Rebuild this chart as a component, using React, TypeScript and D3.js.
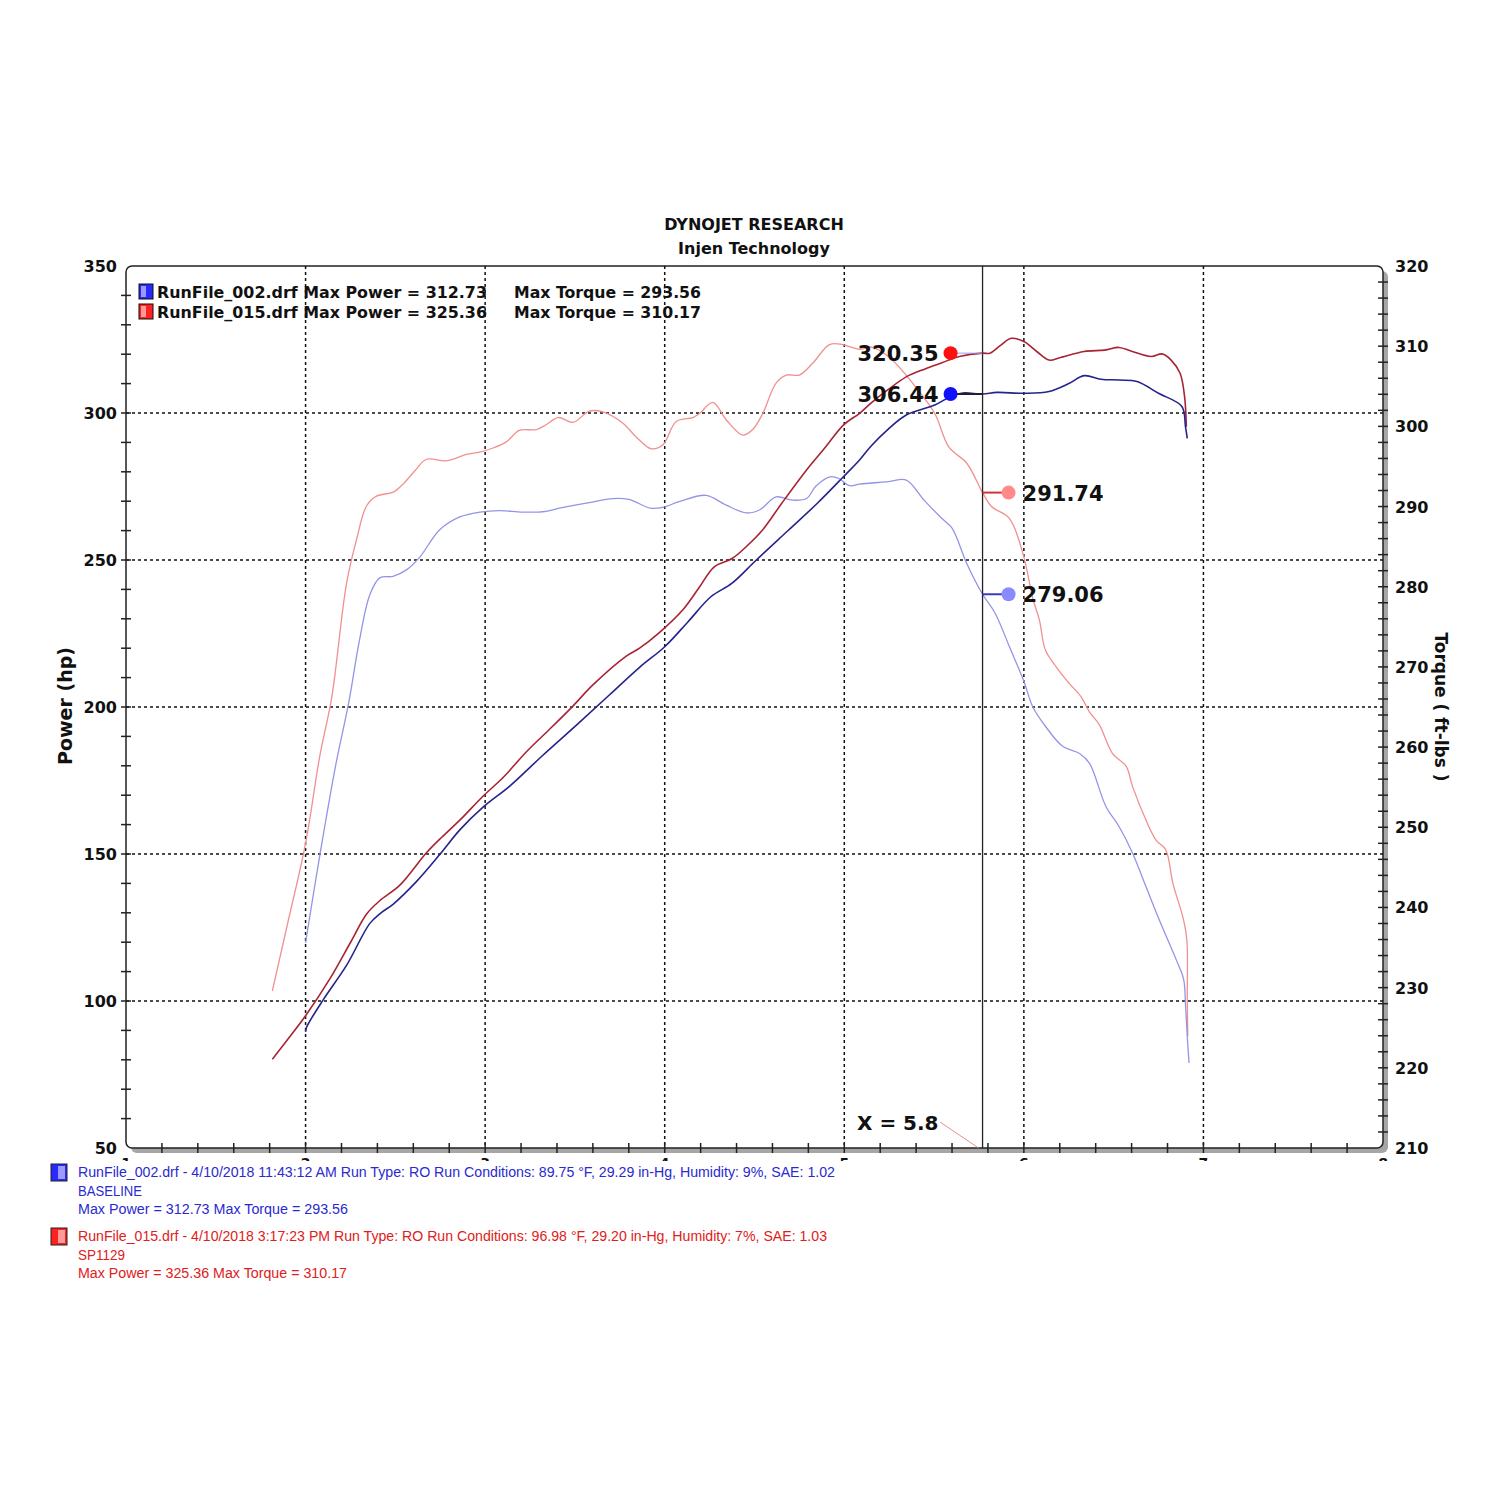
import React from "react";
import * as d3 from "d3";

// ---------- data (rpm in thousands) ----------
const xTicks = [1, 2, 3, 4, 5, 6, 7, 8];
const powerTicks = [50, 100, 150, 200, 250, 300, 350];
const torqueTicks = [210, 220, 230, 240, 250, 260, 270, 280, 290, 300, 310, 320];

const cursorRpm = 5.77;
const cursorLabel = "X = 5.8";

// SP1129 (RunFile_015) power, hp
const sp1129Power: [number, number][] = [
  [1.815, 80.2], [1.9, 86.9], [2.0, 95.0], [2.135, 107.5], [2.25, 119.9], [2.34, 129.6],
  [2.413, 134.1], [2.525, 139.4], [2.673, 150.4], [2.76, 155.8], [2.859, 161.5], [2.992, 169.9],
  [3.1, 176.0], [3.23, 184.8], [3.36, 192.5], [3.49, 200.4], [3.6, 207.5], [3.786, 217.3],
  [3.86, 220.0], [3.97, 225.3], [4.1, 233.0], [4.19, 240.5], [4.276, 247.7], [4.375, 250.5],
  [4.455, 254.6], [4.546, 260.3], [4.652, 269.3], [4.79, 280.6], [4.89, 288.0], [4.995, 295.9],
  [5.085, 299.9], [5.147, 303.3], [5.245, 308.0], [5.345, 312.3], [5.45, 315.0], [5.544, 317.1],
  [5.64, 319.2], [5.77, 320.35], [5.81, 320.3], [5.87, 323.0], [5.93, 325.4], [6.0, 324.3],
  [6.07, 321.0], [6.14, 318.0], [6.2, 318.8], [6.335, 320.9], [6.45, 321.4], [6.53, 322.3],
  [6.6, 321.0], [6.71, 319.2], [6.77, 320.1], [6.82, 318.0], [6.87, 313.5], [6.895, 305.6],
  [6.905, 295.3],
];

// BASELINE (RunFile_002) power, hp
const baselinePower: [number, number][] = [
  [2.0, 89.5], [2.005, 91.0], [2.098, 100.4], [2.228, 112.1], [2.358, 126.4], [2.42, 130.0],
  [2.487, 132.9], [2.617, 140.6], [2.747, 149.8], [2.859, 158.2], [2.99, 166.0], [3.137, 173.1],
  [3.32, 183.5], [3.51, 193.9], [3.69, 204.0], [3.86, 213.5], [4.0, 220.5], [4.13, 229.0],
  [4.257, 237.5], [4.375, 242.1], [4.51, 250.0], [4.69, 260.2], [4.85, 269.3], [4.995, 278.3],
  [5.085, 284.0], [5.147, 288.6], [5.245, 294.5], [5.345, 299.3], [5.504, 302.7], [5.59, 305.5],
  [5.66, 306.8], [5.77, 306.44], [5.85, 307.0], [6.0, 306.7], [6.14, 307.3], [6.25, 310.0],
  [6.335, 312.7], [6.43, 311.5], [6.53, 311.2], [6.63, 310.7], [6.75, 306.7], [6.88, 302.2],
  [6.9, 295.4], [6.91, 291.4],
];

// SP1129 torque, ft-lbs
const sp1129Torque: [number, number][] = [
  [1.815, 229.6], [1.9, 238.0], [2.0, 248.0], [2.08, 259.0], [2.145, 266.1], [2.228, 280.4],
  [2.284, 285.9], [2.34, 290.1], [2.395, 291.3], [2.488, 291.8], [2.543, 292.8], [2.61, 294.5],
  [2.673, 295.9], [2.785, 295.7], [2.896, 296.5], [2.97, 296.8], [3.044, 297.3], [3.12, 298.1],
  [3.19, 299.5], [3.285, 299.6], [3.34, 300.2], [3.406, 301.1], [3.49, 300.5], [3.58, 301.9],
  [3.656, 301.8], [3.767, 300.4], [3.84, 298.7], [3.925, 297.2], [3.99, 297.7], [4.064, 300.6],
  [4.157, 301.1], [4.194, 301.6], [4.268, 303.0], [4.343, 300.8], [4.435, 298.9], [4.49, 299.6],
  [4.546, 301.6], [4.62, 305.4], [4.677, 306.4], [4.75, 306.4], [4.825, 307.9], [4.918, 310.2],
  [4.99, 310.2], [5.085, 309.6], [5.147, 309.9], [5.246, 308.7], [5.405, 304.7], [5.504, 301.6],
  [5.583, 297.4], [5.682, 295.4], [5.77, 291.74], [5.82, 290.0], [5.92, 288.5], [6.0, 283.7],
  [6.05, 278.5], [6.086, 275.9], [6.12, 272.1], [6.18, 270.0], [6.25, 268.0], [6.318, 266.3],
  [6.365, 264.4], [6.42, 262.8], [6.494, 259.2], [6.57, 257.6], [6.605, 255.1], [6.68, 250.9],
  [6.736, 248.4], [6.79, 247.2], [6.83, 243.0], [6.89, 238.4], [6.908, 235.9], [6.91, 228.5],
  [6.913, 223.9],
];

// BASELINE torque, ft-lbs
const baselineTorque: [number, number][] = [
  [2.0, 235.6], [2.08, 246.6], [2.17, 258.0], [2.24, 265.5], [2.3, 273.3], [2.358, 279.0],
  [2.413, 281.1], [2.487, 281.3], [2.562, 282.1], [2.636, 283.7], [2.747, 287.1], [2.859, 288.7],
  [2.97, 289.3], [3.08, 289.5], [3.21, 289.3], [3.34, 289.4], [3.415, 289.8], [3.58, 290.5],
  [3.71, 291.0], [3.8, 290.9], [3.92, 289.8], [3.99, 289.9], [4.08, 290.6], [4.23, 291.4],
  [4.34, 290.2], [4.455, 289.2], [4.53, 289.6], [4.62, 291.2], [4.71, 290.8], [4.79, 291.0],
  [4.84, 292.5], [4.92, 293.7], [4.97, 293.5], [5.03, 292.6], [5.085, 292.8], [5.246, 293.1],
  [5.345, 293.3], [5.444, 290.8], [5.544, 288.5], [5.6, 287.3], [5.682, 282.9], [5.77, 279.06],
  [5.84, 276.7], [5.92, 272.5], [6.0, 268.2], [6.05, 265.0], [6.12, 262.6], [6.216, 260.1],
  [6.31, 259.2], [6.365, 258.0], [6.457, 252.6], [6.53, 250.1], [6.605, 246.8], [6.68, 242.6],
  [6.755, 238.4], [6.85, 233.4], [6.89, 231.0], [6.9, 228.0], [6.91, 223.9], [6.92, 220.6],
];

const cursorValues = { sp1129Power: "320.35", baselinePower: "306.44", sp1129Torque: "291.74", baselineTorque: "279.06" };
const cursorNumbers = { sp1129Power: 320.35, baselinePower: 306.44, sp1129Torque: 291.74, baselineTorque: 279.06 };

const topLegend = [
  { name: "RunFile_002.drf", power: "Max Power = 312.73", torque: "Max Torque = 293.56", color: "#2828ff", light: "#9a9aff" },
  { name: "RunFile_015.drf", power: "Max Power = 325.36", torque: "Max Torque = 310.17", color: "#ff2020", light: "#ff9a9a" },
];

const bottomLegend = [
  {
    lines: [
      "RunFile_002.drf - 4/10/2018 11:43:12 AM  Run Type: RO  Run Conditions: 89.75 \u00B0F, 29.29 in-Hg,  Humidity:  9%, SAE: 1.02",
      "BASELINE",
      "Max Power = 312.73  Max Torque = 293.56",
    ],
    color: "#2a2ad0", box: "#2828ff", light: "#9a9aff",
  },
  {
    lines: [
      "RunFile_015.drf - 4/10/2018 3:17:23 PM  Run Type: RO  Run Conditions: 96.98 \u00B0F, 29.20 in-Hg,  Humidity:  7%, SAE: 1.03",
      "SP1129",
      "Max Power = 325.36  Max Torque = 310.17",
    ],
    color: "#e02020", box: "#ff2020", light: "#ff9a9a",
  },
];

// ---------- layout ----------
const L = 126, R = 1383, T = 266, B = 1148;
const FONT = "'DejaVu Sans', Verdana, sans-serif";
const NARROW = "'Liberation Sans Narrow', 'Liberation Sans', Arial, sans-serif";

export default function App() {
  const x = d3.scaleLinear().domain([1, 8]).range([L, R]);
  const yP = d3.scaleLinear().domain([50, 350]).range([B, T]);
  const yT = d3.scaleLinear().domain([210, 320]).range([B, T]);

  const lineP = d3.line<[number, number]>().x((d) => x(d[0])).y((d) => yP(d[1])).curve(d3.curveCatmullRom.alpha(0.5));
  const lineT = d3.line<[number, number]>().x((d) => x(d[0])).y((d) => yT(d[1])).curve(d3.curveCatmullRom.alpha(0.5));

  const cx = x(cursorRpm);
  const leftTicks = d3.range(60, 350, 10);
  const rightTicks = d3.range(212, 320, 2);
  const bottomTicks = d3.range(1.2, 7.9, 0.2);

  const gridV = [2, 3, 4, 5, 6, 7];
  const gridH = [100, 150, 200, 250, 300];

  const pMarkX = cx - 32;
  const tMarkX = cx + 26;

  return (
    <svg width={1500} height={1500} style={{ position: "absolute", left: 0, top: 0, background: "#fff" }}>
      <defs>
        <clipPath id="xlabclip">
          <rect x={0} y={1154} width={1500} height={7} />
        </clipPath>
        <clipPath id="plotclip">
          <rect x={L} y={T} width={R - L} height={B - T} />
        </clipPath>
      </defs>

      {/* title */}
      <text x={754} y={230} textAnchor="middle" fontFamily={FONT} fontWeight="bold" fontSize={16} fill="#111">DYNOJET RESEARCH</text>
      <text x={754} y={254} textAnchor="middle" fontFamily={FONT} fontWeight="bold" fontSize={16} fill="#111">Injen Technology</text>

      {/* frame shadow + frame */}
      <rect x={L + 5} y={T + 5} width={R - L} height={B - T} rx={6} fill="#a6a6a6" />
      <rect x={L} y={T} width={R - L} height={B - T} rx={6} fill="#fff" stroke="#222" strokeWidth={1.5} />

      {/* grid */}
      {gridH.map((v) => (
        <line key={"gh" + v} x1={L} x2={R} y1={yP(v)} y2={yP(v)} stroke="#111" strokeWidth={1.5} strokeDasharray="3,3" />
      ))}
      {gridV.map((v) => (
        <line key={"gv" + v} x1={x(v)} x2={x(v)} y1={T} y2={B} stroke="#111" strokeWidth={1.5} strokeDasharray="3,3" />
      ))}

      {/* ticks */}
      {leftTicks.map((v) => (
        <line key={"lt" + v} x1={L - 5} x2={L + 5} y1={yP(v)} y2={yP(v)} stroke="#222" strokeWidth={1.5} />
      ))}
      {rightTicks.map((v) => (
        <line key={"rt" + v} x1={R - 5} x2={R + 5} y1={yT(v)} y2={yT(v)} stroke="#222" strokeWidth={1.5} />
      ))}
      {bottomTicks.map((v, i) => (
        <line key={"bt" + i} x1={x(v)} x2={x(v)} y1={B - 5} y2={B + 5} stroke="#222" strokeWidth={1.5} />
      ))}

      {/* axis labels */}
      {powerTicks.map((v) => (
        <text key={"pl" + v} x={117} y={yP(v) + 6} textAnchor="end" fontFamily={FONT} fontWeight="bold" fontSize={16} fill="#111">{v}</text>
      ))}
      {torqueTicks.map((v) => (
        <text key={"tl" + v} x={1395} y={yT(v) + 6} textAnchor="start" fontFamily={FONT} fontWeight="bold" fontSize={16} fill="#111">{v}</text>
      ))}
      <g clipPath="url(#xlabclip)">
        {xTicks.map((v) => (
          <text key={"xl" + v} x={x(v)} y={1168} textAnchor="middle" fontFamily={FONT} fontWeight="bold" fontSize={14} fill="#111">{v}</text>
        ))}
      </g>
      <text transform={`translate(72,706) rotate(-90)`} textAnchor="middle" fontFamily={FONT} fontWeight="bold" fontSize={19} fill="#111">Power (hp)</text>
      <text transform={`translate(1435,707) rotate(90)`} textAnchor="middle" fontFamily={FONT} fontWeight="bold" fontSize={17} fill="#111">Torque ( ft-lbs )</text>

      {/* curves */}
      <g clipPath="url(#plotclip)" fill="none">
        <path d={lineT(sp1129Torque) || ""} stroke="#f09090" strokeWidth={1.3} />
        <path d={lineT(baselineTorque) || ""} stroke="#9494e6" strokeWidth={1.3} />
        <path d={lineP(sp1129Power) || ""} stroke="#a82434" strokeWidth={1.6} />
        <path d={lineP(baselinePower) || ""} stroke="#24248e" strokeWidth={1.6} />
      </g>

      {/* cursor */}
      <line x1={cx} x2={cx} y1={T} y2={B} stroke="#222" strokeWidth={1.3} />
      <line x1={940} y1={1122} x2={cx - 4} y2={B} stroke="#e89090" strokeWidth={1} />
      <text x={857} y={1130} fontFamily={FONT} fontWeight="bold" fontSize={20} fill="#111">{cursorLabel}</text>

      {/* cursor markers: power (left of cursor) */}
      <line x1={pMarkX} x2={cx} y1={yP(cursorNumbers.sp1129Power)} y2={yP(cursorNumbers.sp1129Power)} stroke="#9a9ae8" strokeWidth={1} />
      <line x1={pMarkX} x2={cx} y1={yP(cursorNumbers.baselinePower)} y2={yP(cursorNumbers.baselinePower)} stroke="#222" strokeWidth={2} />
      <circle cx={pMarkX} cy={yP(cursorNumbers.sp1129Power)} r={7} fill="#ff1010" />
      <circle cx={pMarkX} cy={yP(cursorNumbers.baselinePower)} r={7} fill="#1010ff" />
      <text x={pMarkX - 12} y={yP(cursorNumbers.sp1129Power) + 8} textAnchor="end" fontFamily={FONT} fontWeight="bold" fontSize={21} fill="#111">{cursorValues.sp1129Power}</text>
      <text x={pMarkX - 12} y={yP(cursorNumbers.baselinePower) + 8} textAnchor="end" fontFamily={FONT} fontWeight="bold" fontSize={21} fill="#111">{cursorValues.baselinePower}</text>

      {/* cursor markers: torque (right of cursor) */}
      <line x1={cx} x2={tMarkX} y1={yT(cursorNumbers.sp1129Torque)} y2={yT(cursorNumbers.sp1129Torque)} stroke="#c83a3a" strokeWidth={2} />
      <line x1={cx} x2={tMarkX} y1={yT(cursorNumbers.baselineTorque)} y2={yT(cursorNumbers.baselineTorque)} stroke="#3a3ac0" strokeWidth={2} />
      <circle cx={tMarkX} cy={yT(cursorNumbers.sp1129Torque)} r={7} fill="#ff8a8a" />
      <circle cx={tMarkX} cy={yT(cursorNumbers.baselineTorque)} r={7} fill="#8a8aff" />
      <text x={tMarkX + 14} y={yT(cursorNumbers.sp1129Torque) + 8} fontFamily={FONT} fontWeight="bold" fontSize={21} fill="#111">{cursorValues.sp1129Torque}</text>
      <text x={tMarkX + 14} y={yT(cursorNumbers.baselineTorque) + 8} fontFamily={FONT} fontWeight="bold" fontSize={21} fill="#111">{cursorValues.baselineTorque}</text>

      {/* top-left legend */}
      {topLegend.map((d, i) => {
        const yy = 292 + i * 20;
        return (
          <g key={"tl" + i}>
            <rect x={139} y={yy - 8} width={14} height={15} fill={d.color} stroke="#111" strokeWidth={1} />
            <rect x={141} y={yy - 6} width={5} height={11} fill={d.light} />
            <text x={157} y={yy + 6} fontFamily={FONT} fontWeight="bold" fontSize={15} fill="#111" textLength={330} lengthAdjust="spacingAndGlyphs">{d.name} {d.power}</text>
            <text x={514} y={yy + 6} fontFamily={FONT} fontWeight="bold" fontSize={15} fill="#111" textLength={187} lengthAdjust="spacingAndGlyphs">{d.torque}</text>
          </g>
        );
      })}

      {/* bottom legend */}
      {bottomLegend.map((d, i) => {
        const y0 = 1172 + i * 64;
        const widths = i === 0 ? [757, 64, 270] : [749, 47, 269];
        return (
          <g key={"bl" + i}>
            <rect x={51} y={y0 - 8} width={16} height={17} fill={d.box} stroke="#222" strokeWidth={1} />
            <rect x={58} y={y0 - 6} width={7} height={13} fill={d.light} />
            {d.lines.map((t, j) => (
              <text key={j} x={78} y={y0 + 5 + j * 18.5} fontFamily={NARROW} fontSize={14} fill={d.color} textLength={widths[j]} lengthAdjust="spacingAndGlyphs">{t}</text>
            ))}
          </g>
        );
      })}
    </svg>
  );
}
